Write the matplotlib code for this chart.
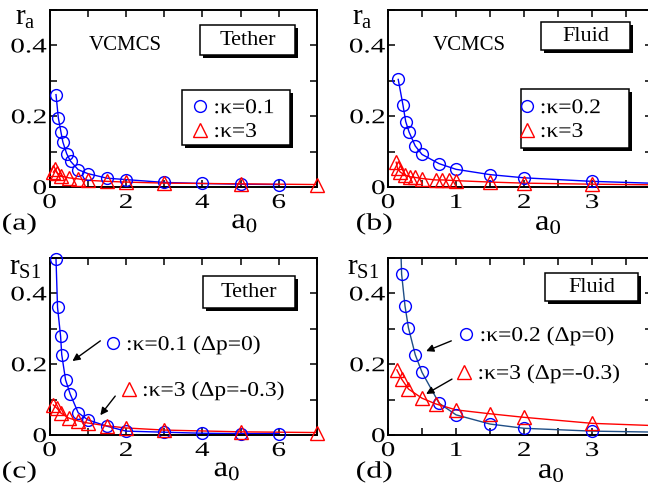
import matplotlib
matplotlib.use("Agg")
import matplotlib.pyplot as plt
import matplotlib.patheffects as pe
from matplotlib.legend import Legend
from matplotlib.patches import Rectangle
from matplotlib.ticker import MultipleLocator
from matplotlib.transforms import Affine2D
import numpy as np

plt.rcParams["font.family"] = ["Liberation Serif", "DejaVu Serif"]
plt.rcParams["mathtext.fontset"] = "custom"
plt.rcParams["mathtext.rm"] = "Liberation Serif"
plt.rcParams["mathtext.it"] = "Liberation Serif"

BLUE = "#0000ff"
RED = "#ff0000"
NAVY = "#1f4e86"

# (a) tether, r_a
a_x_k01 = [0.17, 0.23, 0.3, 0.35, 0.45, 0.55, 0.75, 1, 1.5, 2, 3, 4, 5, 6]
a_y_k01 = [0.261, 0.196, 0.155, 0.127, 0.094, 0.073, 0.049, 0.038, 0.025, 0.021, 0.013, 0.010, 0.008, 0.007]
a_x_k3 = [0.1, 0.15, 0.2, 0.3, 0.5, 0.75, 1, 1.5, 2, 3, 5, 7]
a_y_k3 = [0.042, 0.050, 0.040, 0.031, 0.026, 0.023, 0.019, 0.016, 0.014, 0.011, 0.009, 0.007]

# (b) fluid, r_a
b_x_k02 = [0.15, 0.22, 0.26, 0.31, 0.4, 0.5, 0.75, 1, 1.5, 2, 3, 4]
b_y_k02 = [0.304, 0.231, 0.185, 0.155, 0.116, 0.092, 0.066, 0.050, 0.035, 0.026, 0.016, 0.010]
b_x_k3 = [0.12, 0.14, 0.18, 0.25, 0.32, 0.4, 0.5, 0.7, 0.8, 0.9, 1, 1.5, 2, 3, 4]
b_y_k3 = [0.070, 0.053, 0.042, 0.034, 0.029, 0.027, 0.024, 0.020, 0.020, 0.019, 0.018, 0.014, 0.011, 0.008, 0.006]

# (c) tether, r_S1
c_x_k01 = [0.17, 0.21, 0.29, 0.32, 0.42, 0.54, 0.75, 1, 1.5, 2, 3, 4, 5, 6]
c_y_k01 = [0.497, 0.361, 0.279, 0.227, 0.156, 0.116, 0.063, 0.043, 0.025, 0.011, 0.008, 0.005, 0.004, 0.004]
c_x_k3 = [0.1, 0.2, 0.3, 0.5, 0.75, 1, 1.5, 2, 3, 5, 7]
c_y_k3 = [0.085, 0.075, 0.062, 0.048, 0.040, 0.034, 0.026, 0.020, 0.014, 0.009, 0.007]

# (d) fluid, r_S1
d_x_k02 = [0.15, 0.2, 0.25, 0.3, 0.4, 0.5, 0.75, 1, 1.5, 2, 3, 4]
d_y_k02 = [0.75, 0.454, 0.364, 0.303, 0.227, 0.177, 0.090, 0.057, 0.031, 0.019, 0.011, 0.008]
d_x_k3 = [0.13, 0.2, 0.3, 0.5, 0.7, 1, 1.5, 2, 3, 4]
d_y_k3 = [0.184, 0.158, 0.130, 0.104, 0.088, 0.071, 0.060, 0.050, 0.033, 0.026]


class Widen(pe.AbstractPathEffect):
    """stretch glyphs sideways -- the lettering in the original is wide"""
    def __init__(self, sx, anchor="center"):
        super().__init__()
        self.sx, self.anchor = sx, anchor

    def draw_path(self, renderer, gc, tpath, affine, rgbFace=None):
        ext = tpath.get_extents()
        cx = {"left": ext.x0, "center": 0.5 * (ext.x0 + ext.x1), "right": ext.x1}[self.anchor]
        t = Affine2D().translate(-cx, 0).scale(self.sx, 1).translate(cx, 0) + affine
        renderer.draw_path(gc, tpath, t, rgbFace)


def frame(ax, xmax, xmajor):
    ax.set_xlim(0, xmax)
    ax.set_ylim(0, 0.5)
    ax.xaxis.set_major_locator(MultipleLocator(xmajor))
    ax.xaxis.set_minor_locator(MultipleLocator(xmajor / 2))
    ax.yaxis.set_major_locator(MultipleLocator(0.2))
    ax.yaxis.set_minor_locator(MultipleLocator(0.1))
    ax.yaxis.set_major_formatter(lambda v, p: f"{v:g}")
    ax.tick_params(which="both", direction="in", top=True, right=True, length=5, width=1.1)
    ax.tick_params(axis="x", labelsize=15, pad=5)
    ax.tick_params(axis="y", labelsize=15, pad=2)
    for sp in ax.spines.values():
        sp.set_linewidth(1.4)
    for lbl in ax.get_xticklabels():
        lbl.set_path_effects([Widen(1.4, "center")])
    for lbl in ax.get_yticklabels():
        lbl.set_path_effects([Widen(1.4, "right")])


def series(ax, x, y, marker, color, lcolor, ms):
    x, y = np.asarray(x), np.asarray(y)
    ax.plot(x, y, "-", color=lcolor, lw=1.0, zorder=2)
    lo, hi = ax.get_xlim()[1], ax.get_ylim()[1]
    inside = (x <= lo * 1.001) & (y <= hi * 1.001)
    m, = ax.plot(x[inside], y[inside], ls="none", marker=marker, ms=ms, mfc="none",
                 mec=color, mew=1.0, clip_on=False, zorder=3)
    return m


def shadow_box(ax, x0, y0, x1, y1):
    ax.add_patch(Rectangle((x0, y0), x1 - x0, y1 - y0, transform=ax.transAxes,
                           fc="white", ec="black", lw=1.1, zorder=4,
                           path_effects=[pe.SimplePatchShadow(offset=(2, -2), shadow_rgbFace="black", alpha=1),
                                         pe.Normal()]))


def key(ax, handles, labels, x, y, loc="center left"):
    leg = Legend(ax, handles, labels, loc=loc, bbox_to_anchor=(x, y), frameon=False,
                 fontsize=15, handlelength=0.8, handletextpad=0.25, labelspacing=0.2,
                 borderpad=0, borderaxespad=0)
    leg.set_zorder(6)
    for t in leg.get_texts():
        t.set_path_effects([Widen(1.13, "left")])
    ax.add_artist(leg)


def arrow(ax, start, end):
    ax.annotate("", xy=end, xytext=start,
                arrowprops=dict(arrowstyle="-|>", color="k", lw=1.0, mutation_scale=11,
                                shrinkA=0, shrinkB=0))


fig = plt.figure(figsize=(6.48, 4.97), dpi=100)
ax_a = fig.add_axes([0.0764, 0.6237, 0.4128, 0.3561])
ax_b = fig.add_axes([0.5988, 0.6237, 0.4074, 0.3561])
ax_c = fig.add_axes([0.0764, 0.1247, 0.4128, 0.3561])
ax_d = fig.add_axes([0.5988, 0.1247, 0.4074, 0.3561])
frame(ax_a, 7, 2)
frame(ax_c, 7, 2)
frame(ax_b, 3.88, 1)
frame(ax_d, 3.88, 1)

# (a)
ma1 = series(ax_a, a_x_k01, a_y_k01, "o", BLUE, BLUE, 8.5)
ma2 = series(ax_a, a_x_k3, a_y_k3, "^", RED, RED, 9.5)
shadow_box(ax_a, 0.563, 0.746, 0.918, 0.915)
ax_a.text(0.74, 0.83, "Tether", transform=ax_a.transAxes, ha="center", va="center", fontsize=16, zorder=5)
ax_a.text(0.284, 0.797, "VCMCS", transform=ax_a.transAxes, ha="center", va="center", fontsize=15)
shadow_box(ax_a, 0.496, 0.237, 0.899, 0.548)
key(ax_a, [ma1, ma2], [":κ=0.1", ":κ=3"], 0.532, 0.50, loc="upper left")

# (b)
mb1 = series(ax_b, b_x_k02, b_y_k02, "o", BLUE, BLUE, 8.5)
mb2 = series(ax_b, b_x_k3, b_y_k3, "^", RED, RED, 9.5)
shadow_box(ax_b, 0.581, 0.774, 0.917, 0.932)
ax_b.text(0.749, 0.853, "Fluid", transform=ax_b.transAxes, ha="center", va="center", fontsize=16, zorder=5)
ax_b.text(0.309, 0.797, "VCMCS", transform=ax_b.transAxes, ha="center", va="center", fontsize=15)
shadow_box(ax_b, 0.502, 0.220, 0.913, 0.554)
key(ax_b, [mb1, mb2], [":κ=0.2", ":κ=3"], 0.493, 0.50, loc="upper left")

# (c)
mc1 = series(ax_c, c_x_k01, c_y_k01, "o", BLUE, BLUE, 8.5)
mc2 = series(ax_c, c_x_k3, c_y_k3, "^", RED, RED, 9.5)
shadow_box(ax_c, 0.575, 0.718, 0.918, 0.898)
ax_c.text(0.746, 0.808, "Tether", transform=ax_c.transAxes, ha="center", va="center", fontsize=16, zorder=5)
key(ax_c, [mc1], [":κ=0.1 (Δp=0)"], 0.205, 0.508)
key(ax_c, [mc2], [":κ=3 (Δp=-0.3)"], 0.265, 0.249)
arrow(ax_c, (1.33, 0.266), (0.60, 0.209))
arrow(ax_c, (1.72, 0.110), (1.33, 0.056))

# (d)
md1 = series(ax_d, d_x_k02, d_y_k02, "o", BLUE, NAVY, 8.5)
md2 = series(ax_d, d_x_k3, d_y_k3, "^", RED, RED, 9.5)
shadow_box(ax_d, 0.596, 0.757, 0.947, 0.915)
ax_d.text(0.771, 0.836, "Fluid", transform=ax_d.transAxes, ha="center", va="center", fontsize=16, zorder=5)
key(ax_d, [md1], [":κ=0.2 (Δp=0)"], 0.265, 0.559)
key(ax_d, [md2], [":κ=3 (Δp=-0.3)"], 0.257, 0.345)
arrow(ax_d, (0.93, 0.266), (0.56, 0.237))
arrow(ax_d, (0.94, 0.158), (0.56, 0.116))

# axis labels sit at the corners, like the original
for ax, xl, yl, lab in [(ax_a, -0.09, 1.03, r"$r_a$"), (ax_b, -0.098, 1.03, r"$r_a$"),
                        (ax_c, -0.09, 1.017, r"$r_{S1}$"), (ax_d, -0.094, 1.017, r"$r_{S1}$")]:
    ax.text(xl, yl, lab, transform=ax.transAxes, ha="center", va="top", fontsize=21, clip_on=False)
for ax, xl, yl in [(ax_a, 0.73, -0.12), (ax_b, 0.608, -0.13), (ax_c, 0.664, -0.12), (ax_d, 0.619, -0.13)]:
    ax.text(xl, yl, r"$a_0$", transform=ax.transAxes, ha="center", va="top", fontsize=21,
            clip_on=False, path_effects=[Widen(1.12, "center")])

for x, y, s in [(2, 224, "(a)"), (356, 224, "(b)"), (2, 472, "(c)"), (356, 472, "(d)")]:
    fig.text(x / 648, 1 - y / 497, s, ha="left", va="center", fontsize=17,
             path_effects=[Widen(1.35, "left")])

fig.savefig("out.png", dpi=100, facecolor="white")
